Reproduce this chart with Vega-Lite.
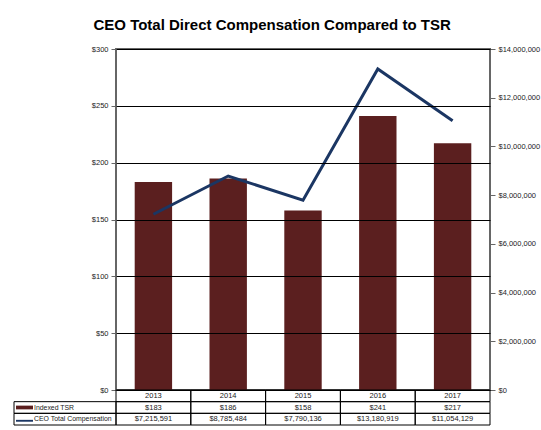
{
  "$schema": "https://vega.github.io/schema/vega-lite/v6.json",
  "padding": {"left": 13, "top": 18, "right": 4, "bottom": 4},
  "background": "white",
  "title": {"text": "CEO Total Direct Compensation Compared to TSR", "font": "Liberation Sans", "fontSize": 15, "fontWeight": "bold", "color": "black", "anchor": "middle", "dx": -5, "offset": 11},
  "datasets": {
    "d": [
      {"year": "2013", "tsr": 183, "ceo": 7215591},
      {"year": "2014", "tsr": 186, "ceo": 8785484},
      {"year": "2015", "tsr": 158, "ceo": 7790136},
      {"year": "2016", "tsr": 241, "ceo": 13180919},
      {"year": "2017", "tsr": 217, "ceo": 11054129}
    ]
  },
  "columns": 2,
  "spacing": 0,
  "bounds": "flush",
  "concat": [
    {
      "width": 102, "height": 341,
      "view": {"stroke": null},
      "data": {"values": []},
      "mark": "point"
    },
    {
      "width": 374, "height": 341,
      "view": {"stroke": "#666", "strokeWidth": 2},
      "data": {"name": "d"},
      "encoding": {"x": {"field": "year", "type": "nominal", "scale": {"paddingInner": 0.5, "paddingOuter": 0.25}, "axis": null}},
      "layer": [
        {
          "mark": {"type": "bar", "color": "#5b1f1f"},
          "encoding": {"y": {"field": "tsr", "type": "quantitative", "scale": {"domain": [0, 300]},
            "axis": {"values": [0, 50, 100, 150, 200, 250, 300], "labelExpr": "'$' + datum.value", "title": null, "grid": true, "gridColor": "black", "gridWidth": 1, "domain": false, "tickColor": "#666", "tickSize": 5, "tickWidth": 1, "labelFontSize": 7.5, "labelPadding": 3, "zindex": 1}}}
        },
        {
          "mark": {"type": "line", "color": "#1b3663", "strokeWidth": 3},
          "encoding": {"y": {"field": "ceo", "type": "quantitative", "scale": {"domain": [0, 14000000]},
            "axis": {"orient": "right", "values": [0, 2000000, 4000000, 6000000, 8000000, 10000000, 12000000, 14000000], "format": "$,d", "title": null, "grid": false, "domain": false, "tickColor": "#666", "tickSize": 5, "labelFontSize": 7.5, "labelPadding": 3}}}
        }
      ],
      "resolve": {"scale": {"y": "independent"}}
    },
    {
      "width": 102, "height": 35,
      "view": {"stroke": null},
      "data": {"values": [{"row": "tsr", "label": "Indexed TSR"}, {"row": "ceo", "label": "CEO Total Compensation"}]},
      "encoding": {"y": {"field": "row", "type": "nominal", "scale": {"domain": ["year", "tsr", "ceo"], "paddingInner": 0, "paddingOuter": 0}, "axis": null}},
      "layer": [
        {"mark": {"type": "rect", "filled": false, "color": "black", "strokeWidth": 1}, "encoding": {}},
        {"mark": {"type": "point", "filled": true, "opacity": 1, "size": 289, "xOffset": -40.5},
         "encoding": {
           "shape": {"field": "row", "type": "nominal", "scale": {"domain": ["tsr", "ceo"], "range": ["M-1,-0.22H1V0.22H-1Z", "M-1,0.08H1V0.3H-1Z"]}, "legend": null},
           "color": {"field": "row", "type": "nominal", "scale": {"domain": ["tsr", "ceo"], "range": ["#5b1f1f", "#1b3663"]}, "legend": null}
         }},
        {"mark": {"type": "text", "align": "left", "baseline": "middle", "dx": -31, "font": "Liberation Sans", "fontSize": 6.9, "color": "#222"},
         "encoding": {"text": {"field": "label"}}}
      ]
    },
    {
      "width": 374, "height": 35,
      "view": {"stroke": null},
      "data": {"name": "d"},
      "encoding": {"x": {"field": "year", "type": "nominal", "scale": {"paddingInner": 0, "paddingOuter": 0}, "axis": null}},
      "layer": [
        {"mark": {"type": "rect", "filled": false, "color": "black", "strokeWidth": 1},
         "encoding": {"y": {"datum": "year", "type": "nominal", "scale": {"domain": ["year", "tsr", "ceo"], "paddingInner": 0, "paddingOuter": 0}, "axis": null}}},
        {"mark": {"type": "text", "font": "Liberation Sans", "fontSize": 7.5, "color": "#222", "baseline": "middle"},
         "encoding": {
           "y": {"datum": "year", "type": "nominal", "scale": {"domain": ["year", "tsr", "ceo"], "paddingInner": 0, "paddingOuter": 0}, "axis": null},
           "text": {"field": "year"}
         }},
        {"transform": [{"fold": ["tsr", "ceo"], "as": ["row", "val"]}],
         "layer": [
           {"mark": {"type": "rect", "filled": false, "color": "black", "strokeWidth": 1},
            "encoding": {"y": {"field": "row", "type": "nominal", "scale": {"domain": ["year", "tsr", "ceo"], "paddingInner": 0, "paddingOuter": 0}, "axis": null}}},
           {"mark": {"type": "text", "font": "Liberation Sans", "fontSize": 7.5, "color": "#222", "baseline": "middle"},
            "encoding": {
              "y": {"field": "row", "type": "nominal", "scale": {"domain": ["year", "tsr", "ceo"], "paddingInner": 0, "paddingOuter": 0}, "axis": null},
              "text": {"field": "val", "type": "quantitative", "format": "$,d"}
            }}
         ]}
      ]
    }
  ],
  "config": {
    "font": "Liberation Sans",
    "axis": {"labelFont": "Liberation Sans", "labelColor": "#222"}
  }
}
